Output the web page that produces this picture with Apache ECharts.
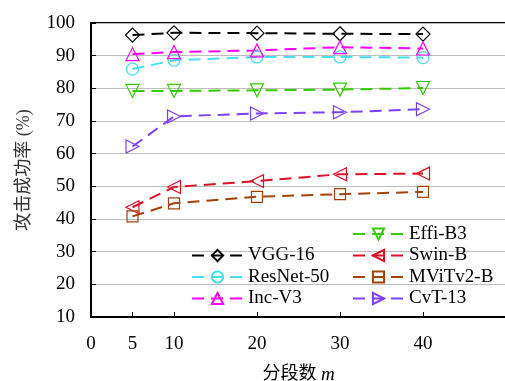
<!DOCTYPE html>
<html>
<head>
<meta charset="utf-8">
<script src="https://cdn.jsdelivr.net/npm/echarts@6/dist/echarts.min.js"></script>
<style>
  html, body { margin: 0; padding: 0; background: #fff; }
  #chart { width: 505px; height: 381px; }
</style>
</head>
<body>
<div id="chart"></div>
<script>
// 分段数 m
var segments = [5, 10, 20, 30, 40];
var xTickValues = [5, 10, 20, 30, 40];
var xLabelValues = [0, 5, 10, 20, 30, 40];

// 攻击成功率 (%)
var vgg16 = [96.3, 97.0, 96.9, 96.7, 96.6];
var resnet50 = [85.9, 88.6, 89.6, 89.6, 89.4];
var incV3 = [90.5, 91.1, 91.6, 92.6, 92.2];
var effiB3 = [79.2, 79.2, 79.4, 79.6, 80.1];
var swinB = [43.6, 49.8, 51.6, 53.7, 53.9];
var mvitv2B = [40.8, 44.8, 46.8, 47.6, 48.3];
var cvt13 = [62.2, 71.4, 72.3, 72.7, 73.6];

var seriesInfo = [
    { name: 'VGG-16', values: vgg16, color: '#000000', symbol: 'diamond', size: 14, rotate: 0 },
    { name: 'ResNet-50', values: resnet50, color: '#45dff5', symbol: 'circle', size: 12, rotate: 0 },
    { name: 'Inc-V3', values: incV3, color: '#ff00ff', symbol: 'triangle', size: 13, rotate: 0 },
    { name: 'Effi-B3', values: effiB3, color: '#33cc00', symbol: 'triangle', size: 13, rotate: 180 },
    { name: 'Swin-B', values: swinB, color: '#dd1126', symbol: 'triangle', size: 13, rotate: 90 },
    { name: 'MViTv2-B', values: mvitv2B, color: '#a5420c', symbol: 'rect', size: 11, rotate: 0 },
    { name: 'CvT-13', values: cvt13, color: '#7f3fff', symbol: 'triangle', size: 13, rotate: -90 }
];

var font = "'Liberation Serif', 'Noto Sans CJK SC', serif";

var series = seriesInfo.map(function (s) {
    return {
        name: s.name,
        type: 'line',
        data: segments.map(function (x, i) { return [x, s.values[i]]; }),
        symbol: s.symbol,
        symbolSize: s.size,
        symbolRotate: s.rotate,
        showSymbol: true,
        lineStyle: { color: s.color, width: 2, type: [12, 7] },
        itemStyle: { color: 'rgba(255,255,255,0)', borderColor: s.color, borderWidth: 1.2 },
        emphasis: { disabled: true },
        animation: false
    };
});

var legendCommon = {
    orient: 'vertical',
    itemWidth: 51,
    itemHeight: 14,
    itemGap: 2.5,
    textStyle: { fontFamily: font, fontSize: 19, color: '#000' },
    selectedMode: false
};

var myChart = echarts.init(document.getElementById('chart'));
var option = {
    backgroundColor: '#fff',
    animation: false,
    grid: {
        left: 91, top: 23, width: 415, height: 294,
        outerBoundsMode: 'none',
        containLabel: false,
        show: true, borderColor: '#000', borderWidth: 2, backgroundColor: 'transparent'
    },
    legend: [
        Object.assign({ data: ['VGG-16', 'ResNet-50', 'Inc-V3'], left: 186, top: 241 }, legendCommon),
        Object.assign({ data: ['Effi-B3', 'Swin-B', 'MViTv2-B', 'CvT-13'], left: 347, top: 219.5 }, legendCommon)
    ],
    xAxis: {
        type: 'value',
        min: 0,
        max: 50,
        interval: 5,
        name: '{a|分段数 }{b|m}',
        nameLocation: 'middle',
        nameGap: 48,
        nameTextStyle: {
            rich: {
                a: { fontFamily: font, fontSize: 18, color: '#000' },
                b: { fontFamily: font, fontSize: 19, fontStyle: 'italic', color: '#000' }
            }
        },
        axisLine: { show: true, lineStyle: { color: '#000', width: 2 } },
        axisTick: { show: true, inside: true, length: 5, customValues: xTickValues, lineStyle: { color: '#000', width: 1 } },
        axisLabel: { customValues: xLabelValues, margin: 18, fontFamily: font, fontSize: 19, color: '#000' },
        splitLine: { show: false }
    },
    yAxis: {
        type: 'value',
        min: 10,
        max: 100,
        interval: 10,
        name: '攻击成功率 (%)',
        nameLocation: 'middle',
        nameGap: 58,
        nameTextStyle: { fontFamily: font, fontSize: 18, color: '#333' },
        axisLine: { show: true, lineStyle: { color: '#000', width: 2 } },
        axisTick: { show: true, inside: true, length: 5, lineStyle: { color: '#000', width: 1 } },
        axisLabel: { margin: 16, fontFamily: font, fontSize: 19, color: '#000' },
        splitLine: { show: true, lineStyle: { color: '#bdbdbd', width: 1 } }
    },
    series: series
};
myChart.setOption(option);
</script>
</body>
</html>
